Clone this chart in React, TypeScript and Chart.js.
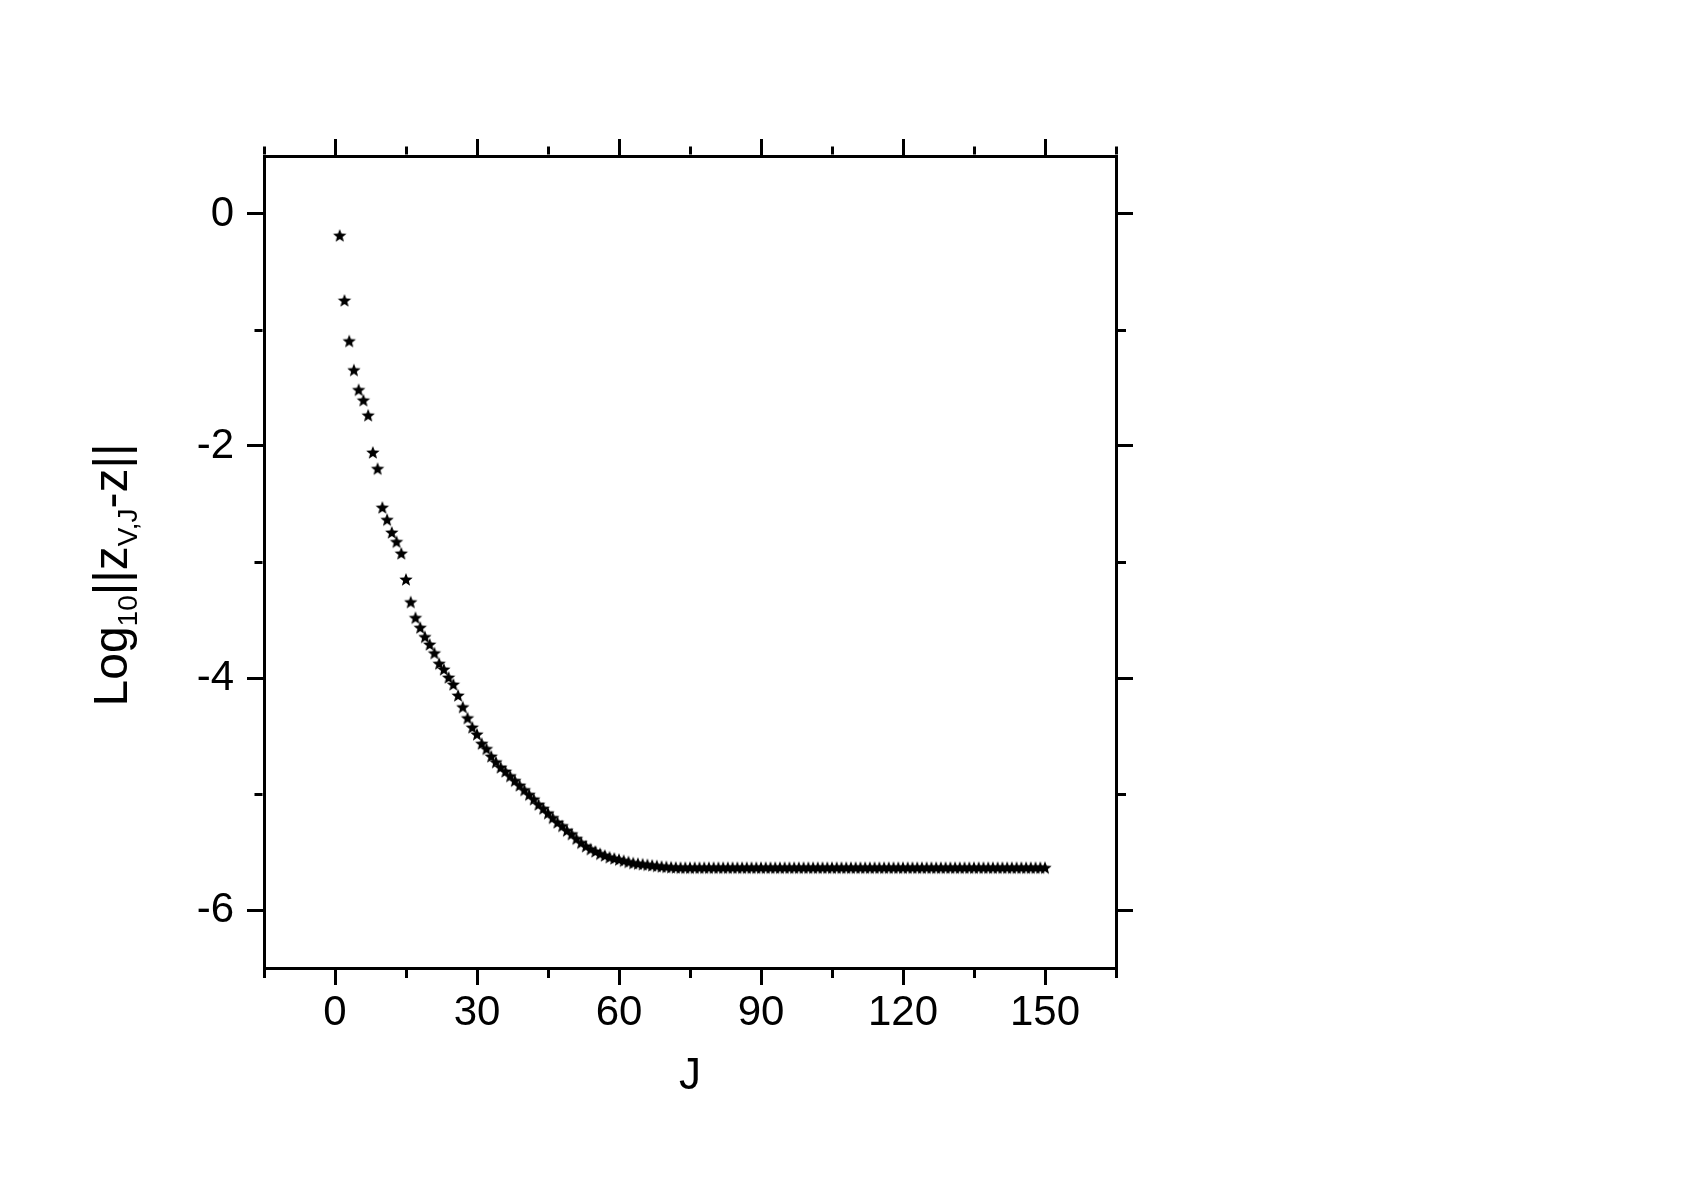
import React, { useEffect, useRef } from 'react';
import { Chart, registerables } from 'chart.js';

Chart.register(...registerables);

// ---- data ----
const J_VALUES = [
  1, 2, 3, 4, 5, 6, 7, 8, 9, 10, 11, 12, 13, 14, 15, 16, 17, 18, 19, 20,
  21, 22, 23, 24, 25, 26, 27, 28, 29, 30, 31, 32, 33, 34, 35, 36, 37, 38, 39, 40,
  41, 42, 43, 44, 45, 46, 47, 48, 49, 50, 51, 52, 53, 54, 55, 56, 57, 58, 59, 60,
  61, 62, 63, 64, 65, 66, 67, 68, 69, 70, 71, 72, 73, 74, 75, 76, 77, 78, 79, 80,
  81, 82, 83, 84, 85, 86, 87, 88, 89, 90, 91, 92, 93, 94, 95, 96, 97, 98, 99, 100,
  101, 102, 103, 104, 105, 106, 107, 108, 109, 110, 111, 112, 113, 114, 115, 116, 117, 118, 119, 120,
  121, 122, 123, 124, 125, 126, 127, 128, 129, 130, 131, 132, 133, 134, 135, 136, 137, 138, 139, 140,
  141, 142, 143, 144, 145, 146, 147, 148, 149, 150,
];

const LOG_ERROR = [
  -0.19, -0.75, -1.1, -1.35, -1.52, -1.61, -1.74, -2.06, -2.2, -2.535,
  -2.64, -2.75, -2.83, -2.93, -3.155, -3.35, -3.485, -3.57, -3.65, -3.715,
  -3.79, -3.88, -3.93, -4.0, -4.06, -4.155, -4.255, -4.35, -4.43, -4.49,
  -4.57, -4.615, -4.68, -4.73, -4.775, -4.81, -4.85, -4.89, -4.93, -4.97,
  -5.01, -5.05, -5.095, -5.13, -5.17, -5.21, -5.25, -5.28, -5.32, -5.35,
  -5.39, -5.425, -5.455, -5.48, -5.5, -5.52, -5.535, -5.55, -5.56, -5.57,
  -5.58, -5.59, -5.6, -5.605, -5.61, -5.615, -5.62, -5.625, -5.63, -5.633,
  -5.636, -5.638,
  -5.64, -5.64, -5.64, -5.64, -5.64, -5.64, -5.64, -5.64, -5.64, -5.64, -5.64, -5.64, -5.64,
  -5.64, -5.64, -5.64, -5.64, -5.64, -5.64, -5.64, -5.64, -5.64, -5.64, -5.64, -5.64, -5.64,
  -5.64, -5.64, -5.64, -5.64, -5.64, -5.64, -5.64, -5.64, -5.64, -5.64, -5.64, -5.64, -5.64,
  -5.64, -5.64, -5.64, -5.64, -5.64, -5.64, -5.64, -5.64, -5.64, -5.64, -5.64, -5.64, -5.64,
  -5.64, -5.64, -5.64, -5.64, -5.64, -5.64, -5.64, -5.64, -5.64, -5.64, -5.64, -5.64, -5.64,
  -5.64, -5.64, -5.64, -5.64, -5.64, -5.64, -5.64, -5.64, -5.64, -5.64, -5.64, -5.64, -5.64,
];

const X_TICKS = [-15, 0, 15, 30, 45, 60, 75, 90, 105, 120, 135, 150, 165];
const Y_TICKS = [-6, -5, -4, -3, -2, -1, 0];
const X_MIN = -15;
const X_MAX = 165;
const Y_MIN = -6.5;
const Y_MAX = 0.5;
const X_TITLE = 'J';
// [text, isSubscript]
const Y_TITLE_PARTS: [string, boolean][] = [
  ['Log', false],
  ['10', true],
  ['||z', false],
  ['V,J', true],
  ['-z||', false],
];

// ---- style ----
const FONT_FAMILY = "'Liberation Sans', Arial, Helvetica, sans-serif";
const W = 1693;
const H = 1183;
const AREA_LEFT = 264;
const AREA_RIGHT = 1116;
const AREA_TOP = 156;
const AREA_BOTTOM = 968;
const MAJOR_LEN = 17;
const MINOR_LEN = 8;
const LINE_W = 3;

const isMajorX = (v: number) => v % 30 === 0;
const isMajorY = (v: number) => v % 2 === 0;

function makeStar(R: number, r: number): HTMLCanvasElement {
  const size = 18;
  const c = document.createElement('canvas');
  c.width = size;
  c.height = size;
  const g = c.getContext('2d')!;
  g.translate(size / 2, size / 2);
  g.beginPath();
  for (let i = 0; i < 10; i++) {
    const rad = i % 2 === 0 ? R : r;
    const a = -Math.PI / 2 + (i * Math.PI) / 5;
    const px = rad * Math.cos(a);
    const py = rad * Math.sin(a);
    if (i === 0) g.moveTo(px, py);
    else g.lineTo(px, py);
  }
  g.closePath();
  g.fillStyle = '#000';
  g.fill();
  return c;
}

function gridFor(side: string, isMajor: (v: number) => boolean) {
  return {
    display: true,
    drawOnChartArea: false,
    drawTicks: true,
    tickLength: MAJOR_LEN,
    tickWidth: LINE_W,
    lineWidth: LINE_W,
    color: '#000',
    tickColor: '#000',
    tickBorderDash: (ctx: any) => {
      const v = ctx && ctx.tick ? ctx.tick.value : undefined;
      if (v === undefined || isMajor(v)) return [];
      const L = MAJOR_LEN - LINE_W / 2;
      return side === 'top' || side === 'left'
        ? [0, L - MINOR_LEN, MINOR_LEN, 400]
        : [MINOR_LEN, 400];
    },
  };
}

const border = { display: true, color: '#000', width: LINE_W };

const yTitlePlugin = {
  id: 'yTitleWithSubscripts',
  afterDraw(chart: any) {
    const { ctx, chartArea } = chart;
    ctx.save();
    const mainFont = `48px ${FONT_FAMILY}`;
    const subFont = `28px ${FONT_FAMILY}`;
    let total = 0;
    const widths = Y_TITLE_PARTS.map(([t, sub]) => {
      ctx.font = sub ? subFont : mainFont;
      const w = ctx.measureText(t).width;
      total += w;
      return w;
    });
    const cx = chartArea.left - 137.5;
    const cy = (chartArea.top + chartArea.bottom) / 2 + 13;
    ctx.translate(cx, cy);
    ctx.rotate(-Math.PI / 2);
    ctx.fillStyle = '#000';
    ctx.textBaseline = 'alphabetic';
    ctx.textAlign = 'left';
    let x = -total / 2;
    Y_TITLE_PARTS.forEach(([t, sub], i) => {
      ctx.font = sub ? subFont : mainFont;
      ctx.fillText(t, x, sub ? 10 : 0);
      x += widths[i];
    });
    ctx.restore();
  },
};

export default function App() {
  const ref = useRef<HTMLCanvasElement>(null);

  useEffect(() => {
    const star = makeStar(7, 3);
    const points = J_VALUES.map((j, i) => ({ x: j, y: LOG_ERROR[i] }));
    const tickFont = { family: FONT_FAMILY, size: 42 };

    const chart = new Chart(ref.current!, {
      type: 'scatter',
      data: {
        datasets: [
          {
            data: points,
            pointStyle: star as any,
            pointRadius: 7,
            backgroundColor: '#000',
            borderColor: '#000',
            xAxisID: 'x',
            yAxisID: 'y',
          },
        ],
      },
      options: {
        responsive: false,
        animation: false,
        devicePixelRatio: 1,
        layout: { padding: 0 },
        plugins: {
          legend: { display: false },
          tooltip: { enabled: false },
        },
        scales: {
          x: {
            type: 'linear',
            position: 'bottom',
            min: X_MIN,
            max: X_MAX,
            afterBuildTicks: (s: any) => {
              s.ticks = X_TICKS.map((v) => ({ value: v }));
            },
            afterFit: (s: any) => {
              s.height = H - AREA_BOTTOM;
            },
            ticks: {
              autoSkip: false,
              maxRotation: 0,
              minRotation: 0,
              padding: 3,
              color: '#000',
              font: tickFont,
              callback: (v: any) => (isMajorX(Number(v)) ? String(v) : ''),
            },
            grid: gridFor('bottom', isMajorX) as any,
            border,
            title: {
              display: true,
              text: X_TITLE,
              color: '#000',
              font: { family: FONT_FAMILY, size: 44 },
              padding: { top: 0, bottom: 80 },
            },
          },
          xTop: {
            type: 'linear',
            position: 'top',
            min: X_MIN,
            max: X_MAX,
            afterBuildTicks: (s: any) => {
              s.ticks = X_TICKS.map((v) => ({ value: v }));
            },
            afterFit: (s: any) => {
              s.height = AREA_TOP;
            },
            ticks: { display: false, autoSkip: false, maxRotation: 0 },
            grid: gridFor('top', isMajorX) as any,
            border,
          },
          y: {
            type: 'linear',
            position: 'left',
            min: Y_MIN,
            max: Y_MAX,
            afterBuildTicks: (s: any) => {
              s.ticks = Y_TICKS.map((v) => ({ value: v }));
            },
            afterFit: (s: any) => {
              s.width = AREA_LEFT;
            },
            ticks: {
              autoSkip: false,
              padding: 13,
              color: '#000',
              font: tickFont,
              callback: (v: any) => (isMajorY(Number(v)) ? String(v) : ''),
            },
            grid: gridFor('left', isMajorY) as any,
            border,
          },
          yRight: {
            type: 'linear',
            position: 'right',
            min: Y_MIN,
            max: Y_MAX,
            afterBuildTicks: (s: any) => {
              s.ticks = Y_TICKS.map((v) => ({ value: v }));
            },
            afterFit: (s: any) => {
              s.width = W - AREA_RIGHT;
            },
            ticks: { display: false, autoSkip: false },
            grid: gridFor('right', isMajorY) as any,
            border,
          },
        },
      } as any,
      plugins: [yTitlePlugin],
    });

    return () => chart.destroy();
  }, []);

  return (
    <div
      style={{
        position: 'absolute',
        left: 0,
        top: 0,
        width: W,
        height: H,
        background: '#fff',
      }}
    >
      <canvas ref={ref} width={W} height={H} style={{ display: 'block', width: W, height: H }} />
    </div>
  );
}
